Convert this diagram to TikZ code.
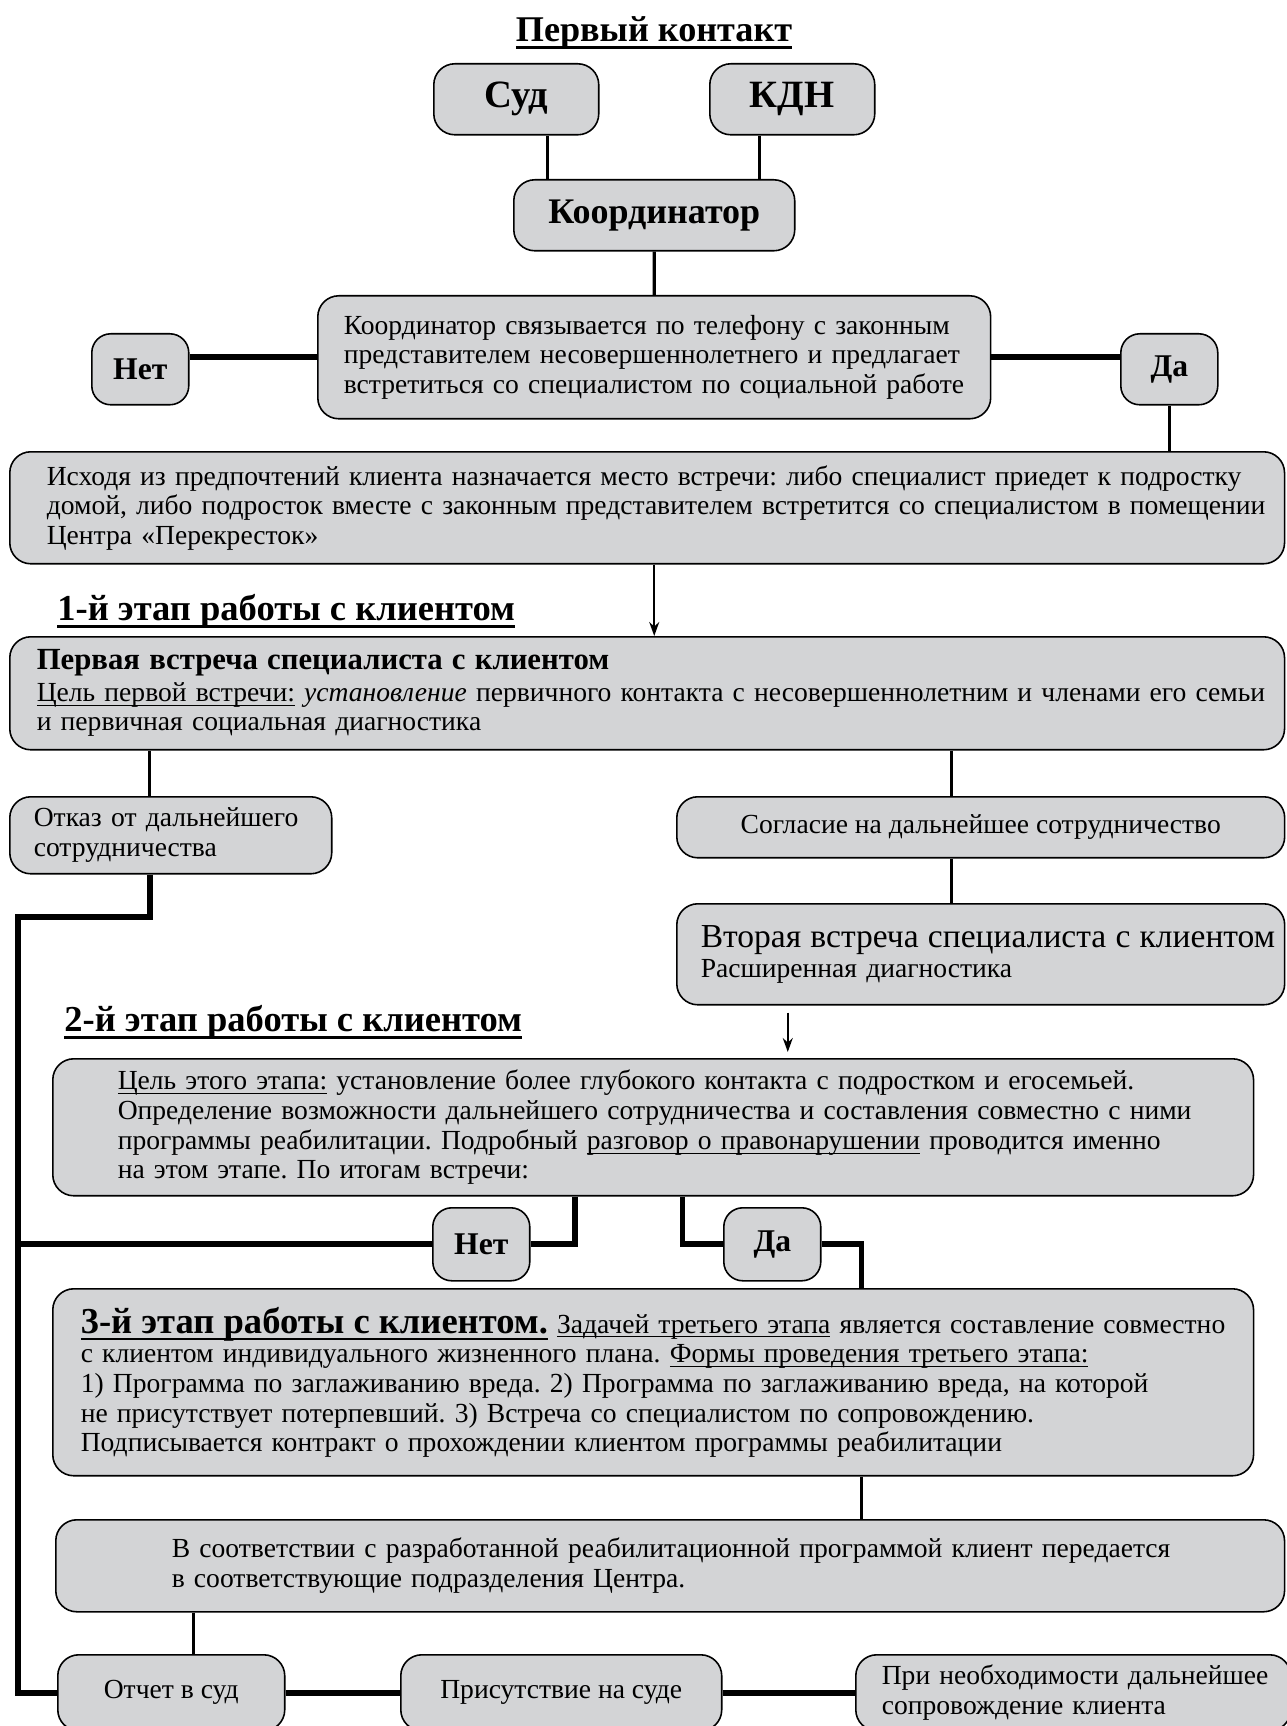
\documentclass[tikz,border=0pt]{standalone}
\usepackage{fontspec}
\setmainfont{Liberation Serif}
\usetikzlibrary{%
    arrows.meta,
    positioning
}

\definecolor{boxgray}{RGB}{211,212,214}

\newsavebox{\ulbox}
\newcommand{\ulthin}[1]{\leavevmode\sbox{\ulbox}{#1}\rlap{\rule[-0.16em]{\wd\ulbox}{0.55pt}}\usebox{\ulbox}}
\newcommand{\ulbold}[1]{\leavevmode\sbox{\ulbox}{#1}\rlap{\rule[-0.2em]{\wd\ulbox}{1.5pt}}\usebox{\ulbox}}

\tikzset{%
    box/.style       = {draw=black, line width=0.9pt, fill=boxgray,
                        rounded corners=0.42cm, inner ysep=0pt,
                        font=\fontsize{15.7}{16.9}\selectfont\frenchspacing},
    tagbox/.style    = {box, anchor=north west, align=center,
                        font=\bfseries\fontsize{22}{24}\selectfont},
    textbox/.style   = {box, anchor=north west, align=left, inner xsep=0pt,
                        execute at begin node={\leftskip=#1}},
    textbox/.default = 0.5cm,
    answer/.style    = {box, anchor=north west, minimum width=1.94cm,
                        minimum height=1.42cm, rounded corners=0.38cm,
                        font=\bfseries\fontsize{18}{20}\selectfont},
    heading/.style   = {inner sep=0pt, font=\bfseries\fontsize{20.8}{24}\selectfont},
    link/.style      = {line width=1.8pt},
    bus/.style       = {line width=3.2pt},
    arrow/.style     = {line width=1.1pt,
                        -{Stealth[length=0.28cm, width=0.2cm]}}
}

\begin{document}
\begin{tikzpicture}[x=0.02cm, y=-0.02cm]
    \useasboundingbox (0,0) rectangle (1286,1726);

    % first contact
    \node (first) at (654,33) [heading, font=\bfseries\fontsize{20.6}{24}\selectfont]
        {\ulbold{Первый контакт}};
    \node (sud)   at (433,63)  [tagbox, minimum width=3.3cm, minimum height=1.42cm] {Суд};
    \node (kdn)   at (709,63)  [tagbox, minimum width=3.3cm, minimum height=1.42cm] {КДН};
    \node (coord) at (513,179) [tagbox, minimum width=5.62cm, minimum height=1.42cm,
                                font=\bfseries\fontsize{20.5}{24}\selectfont] {Координатор};
    \node (call)  at (317,295) [textbox=0.52cm, text width=13.46cm, minimum height=2.46cm]
        {Координатор связывается по телефону с законным\\
         представителем несовершеннолетнего и предлагает\\
         встретиться со специалистом по социальной работе};
    \node (no1)   at (91,333)   [answer] {Нет};
    \node (yes1)  at (1120,333) [answer] {Да};
    \node (place) at (9,451) [textbox=0.74cm, text width=25.5cm, minimum height=2.24cm]
        {Исходя из предпочтений клиента назначается место встречи: либо специалист приедет к подростку\\
         домой, либо подросток вместе с законным представителем встретится со специалистом в помещении\\
         Центра «Перекресток»};

    % stage 1
    \node (stage1) at (57,611) [heading, anchor=west] {\ulbold{1-й этап работы с клиентом}};
    \node (meet1)  at (9,636) [textbox=0.54cm, text width=25.5cm, minimum height=2.26cm]
        {{\bfseries\fontsize{17.5}{19}\selectfont Первая встреча специалиста с клиентом}\\[1pt]
         \ulthin{Цель первой встречи:} \textit{установление} первичного контакта с несовершеннолетним и членами его семьи\\
         и первичная социальная диагностика};
    \node (refuse) at (9,796) [textbox=0.48cm, text width=6.44cm, minimum height=1.54cm]
        {Отказ от дальнейшего\\ сотрудничества};
    \node (agree)  at (676,796) [box, anchor=north west, minimum width=12.16cm, minimum height=1.22cm]
        {Согласие на дальнейшее сотрудничество};
    \node (meet2)  at (676,903) [textbox=0.48cm, text width=12.16cm, minimum height=2.02cm]
        {{\fontsize{19.1}{20}\selectfont Вторая встреча специалиста с клиентом}\\
         Расширенная диагностика};

    % stage 2
    \node (stage2) at (64,1022) [heading, anchor=west] {\ulbold{2-й этап работы с клиентом}};
    \node (goal2)  at (52,1058) [textbox=1.3cm, text width=24.02cm, minimum height=2.74cm]
        {\ulthin{Цель этого этапа:} установление более глубокого контакта с подростком и егосемьей.\\
         Определение возможности дальнейшего сотрудничества и составления совместно с ними\\
         программы реабилитации. Подробный \ulthin{разговор о правонарушении} проводится именно\\
         на этом этапе. По итогам встречи:};
    \node (no2)    at (432,1207) [answer, minimum height=1.46cm] {Нет};
    \node (yes2)   at (723,1207) [answer, minimum height=1.46cm] {Да};

    % stage 3
    \node (stage3) at (52,1288) [textbox=0.56cm, text width=24.02cm, minimum height=3.74cm]
        {{\bfseries\fontsize{20.8}{22}\selectfont\ulbold{3-й этап работы с клиентом.}} \ulthin{Задачей третьего этапа} является составление совместно\\
         с клиентом индивидуального жизненного плана. \ulthin{Формы проведения третьего этапа:}\\
         1) Программа по заглаживанию вреда. 2) Программа по заглаживанию вреда, на которой\\
         не присутствует потерпевший. 3) Встреча со специалистом по сопровождению.\\
         Подписывается контракт о прохождении клиентом программы реабилитации};
    \node (transfer) at (55,1519) [textbox=2.32cm, text width=24.58cm, minimum height=1.84cm]
        {В соответствии с разработанной реабилитационной программой клиент передается\\
         в соответствующие подразделения Центра.};
    \node (report) at (57,1654)  [box, anchor=north west, minimum width=4.54cm, minimum height=1.52cm] {Отчет в суд};
    \node (court)  at (400,1654) [box, anchor=north west, minimum width=6.42cm, minimum height=1.52cm] {Присутствие на суде};
    \node (follow) at (855,1654) [textbox=0.52cm, text width=8.7cm, minimum height=1.52cm]
        {При необходимости дальнейшее\\ сопровождение клиента};
    \coordinate (rail) at (18,917);

    % connectors
    \draw[link] ([xshift=0.63cm]sud.south) -- ([xshift=0.63cm]sud.south |- coord.north);
    \draw[link] ([xshift=-0.65cm]kdn.south) -- ([xshift=-0.65cm]kdn.south |- coord.north);
    \draw[link] (coord) -- (call);
    \draw[bus] (no1.east |- call.west) -- (call.west);
    \draw[bus] (call.east) -- (call.east -| yes1.west);
    \draw[link] (yes1.south) -- (yes1.south |- place.north);
    \draw[arrow] (call.south |- place.south) -- (call.south |- meet1.north);
    \draw[link] ([xshift=-0.42cm]refuse.north |- meet1.south) -- ([xshift=-0.42cm]refuse.north);
    \draw[link] ([xshift=-0.58cm]agree.north |- meet1.south) -- ([xshift=-0.58cm]agree.north);
    \draw[link] ([xshift=-0.58cm]agree.south) -- ([xshift=-0.58cm]agree.south |- meet2.north);
    \draw[arrow, shorten <=0.14cm, shorten >=0.12cm]
        ([xshift=-3.86cm]meet2.south) -- ([xshift=-3.86cm]meet2.south |- goal2.north);
    \draw[bus] ([xshift=-0.42cm]refuse.south) |- (rail) -- (rail |- report.west) -- (report.west);
    \draw[bus] ([xshift=-1.57cm]goal2.south) |- (no2.east);
    \draw[bus] (no2.west) -- (no2.west -| rail);
    \draw[bus] ([xshift=0.59cm]goal2.south) |- (yes2.west);
    \draw[bus] (yes2.east) -| ([xshift=4.17cm]stage3.north);
    \draw[link] ([xshift=4.17cm]stage3.south) -- ([xshift=4.17cm]stage3.south |- transfer.north);
    \draw[link] ([xshift=0.45cm]report.north |- transfer.south) -- ([xshift=0.45cm]report.north);
    \draw[bus] (report.east) -- (court.west);
    \draw[bus] (court.east) -- (follow.west);
\end{tikzpicture}
\end{document}
